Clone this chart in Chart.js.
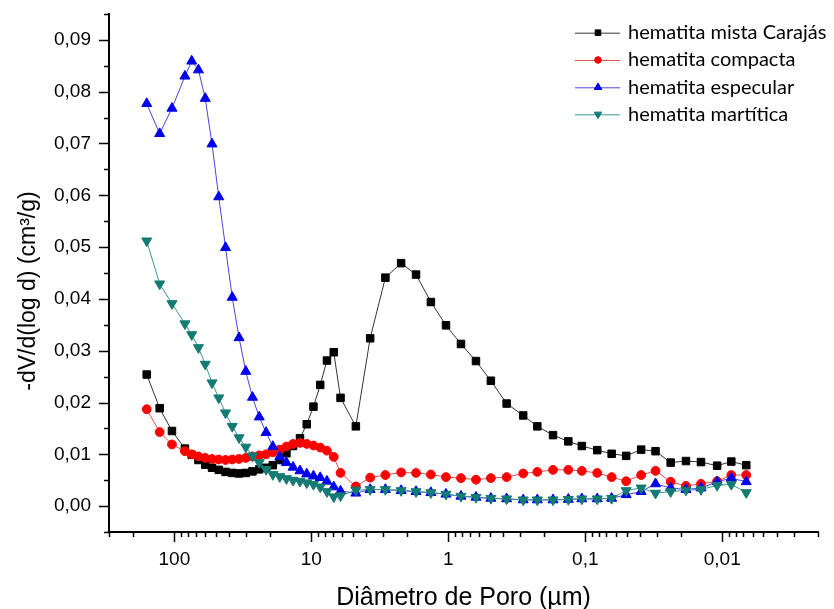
<!DOCTYPE html>
<html>
<head>
<meta charset="utf-8">
<script src="https://cdn.jsdelivr.net/npm/chart.js@4.4.1/dist/chart.umd.min.js"></script>
<style>
  html, body { margin: 0; padding: 0; background: #fff; }
  #wrap { width: 834px; height: 609px; }
</style>
</head>
<body>
<div id="wrap"><canvas id="poreChart" width="834" height="609"></canvas></div>
<script>
// pore diameter (µm), shared by all four samples
const diameters = [
  159.1, 128.0, 104.1,
  83.7, 74.7, 66.7, 59.5, 53.1, 47.4, 42.3, 37.8, 33.7, 30.1, 26.9, 24.0,
  21.4, 19.1, 17.0, 15.2, 13.6, 12.1, 10.8, 9.65, 8.61, 7.69, 6.86, 6.12,
  4.73, 3.72, 2.88, 2.21, 1.72, 1.34, 1.04, 0.808, 0.628, 0.489, 0.375,
  0.284, 0.224, 0.172, 0.133, 0.106, 0.0818, 0.0642, 0.0503, 0.0391,
  0.0307, 0.0238, 0.0184, 0.0143, 0.0109, 0.00859, 0.00668
];

const mistaCarajas = [
  0.0254, 0.0189, 0.0145,
  0.0111, 0.0099, 0.0089, 0.0080, 0.0074, 0.0070, 0.0066, 0.0064, 0.0063, 0.0064, 0.0067, 0.0071,
  0.0074, 0.0079, 0.0089, 0.0102, 0.0116, 0.0131, 0.0158, 0.0192, 0.0234, 0.0281, 0.0297, 0.0209,
  0.0154, 0.0324, 0.0441, 0.0469, 0.0447, 0.0394, 0.0349, 0.0313, 0.0280, 0.0242, 0.0198,
  0.0175, 0.0154, 0.0137, 0.0125, 0.0116, 0.0108, 0.0101, 0.0097, 0.0109,
  0.0106, 0.0084, 0.0087, 0.0085, 0.0078, 0.0086, 0.0079
];

const compacta = [
  0.0187, 0.0143, 0.0119,
  0.0106, 0.0100, 0.0096, 0.0093, 0.0091, 0.0090, 0.0089, 0.0090, 0.0091, 0.0093, 0.0096, 0.0098,
  0.0100, 0.0104, 0.0109, 0.0115, 0.0120, 0.0122, 0.0120, 0.0117, 0.0113, 0.0107, 0.0095, 0.0064,
  0.0038, 0.0055, 0.0060, 0.0065, 0.0064, 0.0061, 0.0056, 0.0054, 0.0051, 0.0054, 0.0056,
  0.0063, 0.0066, 0.0070, 0.0070, 0.0068, 0.0064, 0.0056, 0.0048, 0.0060,
  0.0068, 0.0047, 0.0039, 0.0043, 0.0048, 0.0060, 0.0060
];

const especular = [
  0.0777, 0.0719, 0.0768,
  0.0830, 0.0859, 0.0842, 0.0787, 0.0699, 0.0597, 0.0499, 0.0403, 0.0325, 0.0260, 0.0210, 0.0172,
  0.0142, 0.0115, 0.0095, 0.0084, 0.0075, 0.0068, 0.0062, 0.0058, 0.0055, 0.0048, 0.0037, 0.0029,
  0.0025, 0.0032, 0.0032, 0.0030, 0.0028, 0.0026, 0.0023, 0.0019, 0.0017, 0.0015, 0.0014,
  0.0012, 0.0012, 0.0012, 0.0013, 0.0014, 0.0014, 0.0015, 0.0022, 0.0028,
  0.0043, 0.0035, 0.0032, 0.0035, 0.0047, 0.0054, 0.0047
];

const martitica = [
  0.0512, 0.0429, 0.0391,
  0.0352, 0.0331, 0.0306, 0.0274, 0.0238, 0.0209, 0.0180, 0.0154, 0.0132, 0.0114, 0.0097, 0.0084,
  0.0071, 0.0061, 0.0057, 0.0053, 0.0050, 0.0048, 0.0045, 0.0042, 0.0037, 0.0028, 0.0018, 0.0020,
  0.0031, 0.0032, 0.0032, 0.0030, 0.0028, 0.0026, 0.0023, 0.0019, 0.0017, 0.0015, 0.0014,
  0.0012, 0.0012, 0.0012, 0.0013, 0.0014, 0.0014, 0.0015, 0.0030, 0.0035,
  0.0025, 0.0028, 0.0031, 0.0032, 0.0040, 0.0042, 0.0026
];

const seriesNames = ["hematita mista Carajás", "hematita compacta", "hematita especular", "hematita martítica"];
const xDecades = [100, 10, 1, 0.1, 0.01];
const xDecadeLabels = ["100", "10", "1", "0,1", "0,01"];

const X_MIN = 0.002, X_MAX = 300;
const Y_MIN = -0.005, Y_MAX = 0.095, Y_STEP = 0.005;

function toPoints(values) {
  return values.map((v, i) => ({ x: diameters[i], y: v }));
}

function isDecade(v) {
  const l = Math.log10(v);
  return Math.abs(l - Math.round(l)) < 1e-6;
}

const styles = [
  { marker: "#000000", line: "#333333", pointStyle: "rect", radius: 5.3, rotation: 0 },
  { marker: "#ff0000", line: "#e25050", pointStyle: "circle", radius: 4.4, rotation: 0 },
  { marker: "#0000ee", line: "#4646d8", pointStyle: "triangle", radius: 5.8, rotation: 0 },
  { marker: "#147a74", line: "#3a9893", pointStyle: "triangle", radius: 5.8, rotation: 180 }
];

const allValues = [mistaCarajas, compacta, especular, martitica];

const datasets = allValues.map((vals, i) => ({
  label: seriesNames[i],
  data: toPoints(vals),
  borderColor: styles[i].line,
  borderWidth: 1,
  backgroundColor: styles[i].marker,
  pointBackgroundColor: styles[i].marker,
  pointBorderColor: styles[i].marker,
  pointBorderWidth: 1,
  pointStyle: styles[i].pointStyle,
  pointRadius: styles[i].radius,
  pointRotation: styles[i].rotation,
  tension: 0,
  fill: false,
  order: 3 - i
}));

const tickFont = { family: "'Liberation Sans', Arial, sans-serif", size: 19 };

// tick marks, axis titles and the legend
const decorations = {
  id: "decorations",
  afterDraw(chart) {
    const ctx = chart.ctx;
    const xs = chart.scales.x, ys = chart.scales.y;
    const area = chart.chartArea;
    ctx.save();
    ctx.strokeStyle = "#000";
    ctx.lineWidth = 1.5;
    xs.ticks.forEach((t) => {
      const px = Math.round(xs.getPixelForValue(t.value)) + 0.5;
      const len = isDecade(t.value) ? 10 : 5;
      ctx.beginPath();
      ctx.moveTo(px, area.bottom);
      ctx.lineTo(px, area.bottom + len);
      ctx.stroke();
    });
    ys.ticks.forEach((t) => {
      const py = Math.round(ys.getPixelForValue(t.value)) + 0.5;
      const major = Math.round(t.value * 1000) % 10 === 0;
      const len = major ? 10 : 5;
      ctx.beginPath();
      ctx.moveTo(area.left, py);
      ctx.lineTo(area.left - len, py);
      ctx.stroke();
    });

    // axis titles
    ctx.fillStyle = "#000";
    ctx.font = "25px 'Liberation Sans', Arial, sans-serif";
    ctx.textAlign = "center";
    ctx.textBaseline = "middle";
    ctx.fillText("Diâmetro de Poro (µm)", (area.left + area.right) / 2, 598);
    ctx.save();
    ctx.translate(29, 291);
    ctx.rotate(-Math.PI / 2);
    ctx.font = "23px 'Liberation Sans', Arial, sans-serif";
    ctx.fillText("-dV/d(log d) (cm³/g)", 0, 0);
    ctx.restore();

    // legend
    const rowY = [32.7, 60, 87.3, 114.3];
    ctx.font = "20px Lato, 'Open Sans', sans-serif";
    ctx.textAlign = "left";
    ctx.textBaseline = "middle";
    seriesNames.forEach((name, i) => {
      const y = rowY[i];
      ctx.strokeStyle = styles[i].line;
      ctx.lineWidth = 1;
      ctx.beginPath();
      ctx.moveTo(575, y + 0.5);
      ctx.lineTo(620, y + 0.5);
      ctx.stroke();
      ctx.fillStyle = styles[i].marker;
      ctx.strokeStyle = styles[i].marker;
      Chart.helpers.drawPoint(ctx, {
        pointStyle: styles[i].pointStyle,
        radius: styles[i].radius * 0.75,
        rotation: styles[i].rotation,
        borderWidth: 1
      }, 598, y);
      ctx.fillStyle = "#000";
      ctx.fillText(name, 628, y);
    });
    ctx.restore();
  }
};

const ctx = document.getElementById("poreChart").getContext("2d");
const poreChart = new Chart(ctx, {
  type: "line",
  data: { datasets: datasets },
  options: {
    responsive: false,
    animation: false,
    devicePixelRatio: 1,
    layout: { padding: { top: 14, right: 16, left: 0, bottom: 0 } },
    plugins: {
      legend: { display: false },
      tooltip: { enabled: false }
    },
    scales: {
      x: {
        type: "logarithmic",
        reverse: true,
        min: X_MIN,
        max: X_MAX,
        afterBuildTicks(scale) {
          const ticks = [];
          for (let e = -3; e <= 2; e++) {
            for (let m = 1; m <= 9; m++) {
              const v = parseFloat((m * Math.pow(10, e)).toPrecision(6));
              if (v >= X_MIN - 1e-9 && v <= X_MAX + 1e-9) ticks.push({ value: v });
            }
          }
          scale.ticks = ticks;
        },
        afterFit(scale) {
          scale.height = 77;
          scale.paddingLeft = 0;
          scale.paddingRight = 0;
        },
        grid: { display: true, drawOnChartArea: false, drawTicks: false },
        border: { display: true, color: "#000", width: 2 },
        ticks: {
          autoSkip: false,
          maxRotation: 0,
          padding: 16,
          color: "#000",
          font: tickFont,
          callback(value) {
            const k = xDecades.findIndex((d) => Math.abs(d - value) / d < 1e-6);
            return k >= 0 ? xDecadeLabels[k] : "";
          }
        }
      },
      y: {
        type: "linear",
        min: Y_MIN,
        max: Y_MAX,
        afterBuildTicks(scale) {
          const ticks = [];
          const n = Math.round((Y_MAX - Y_MIN) / Y_STEP);
          for (let i = 0; i <= n; i++) {
            ticks.push({ value: Math.round((Y_MIN + i * Y_STEP) * 1000) / 1000 });
          }
          scale.ticks = ticks;
        },
        afterFit(scale) {
          scale.width = 109;
          scale.paddingTop = 0;
          scale.paddingBottom = 0;
        },
        grid: { display: true, drawOnChartArea: false, drawTicks: false },
        border: { display: true, color: "#000", width: 2 },
        ticks: {
          autoSkip: false,
          padding: 18,
          color: "#000",
          font: tickFont,
          callback(value) {
            const r = Math.round(value * 1000);
            if (r < 0 || r % 10 !== 0) return "";
            return (r / 1000).toFixed(2).replace(".", ",");
          }
        }
      }
    }
  },
  plugins: [decorations]
});
</script>
</body>
</html>
